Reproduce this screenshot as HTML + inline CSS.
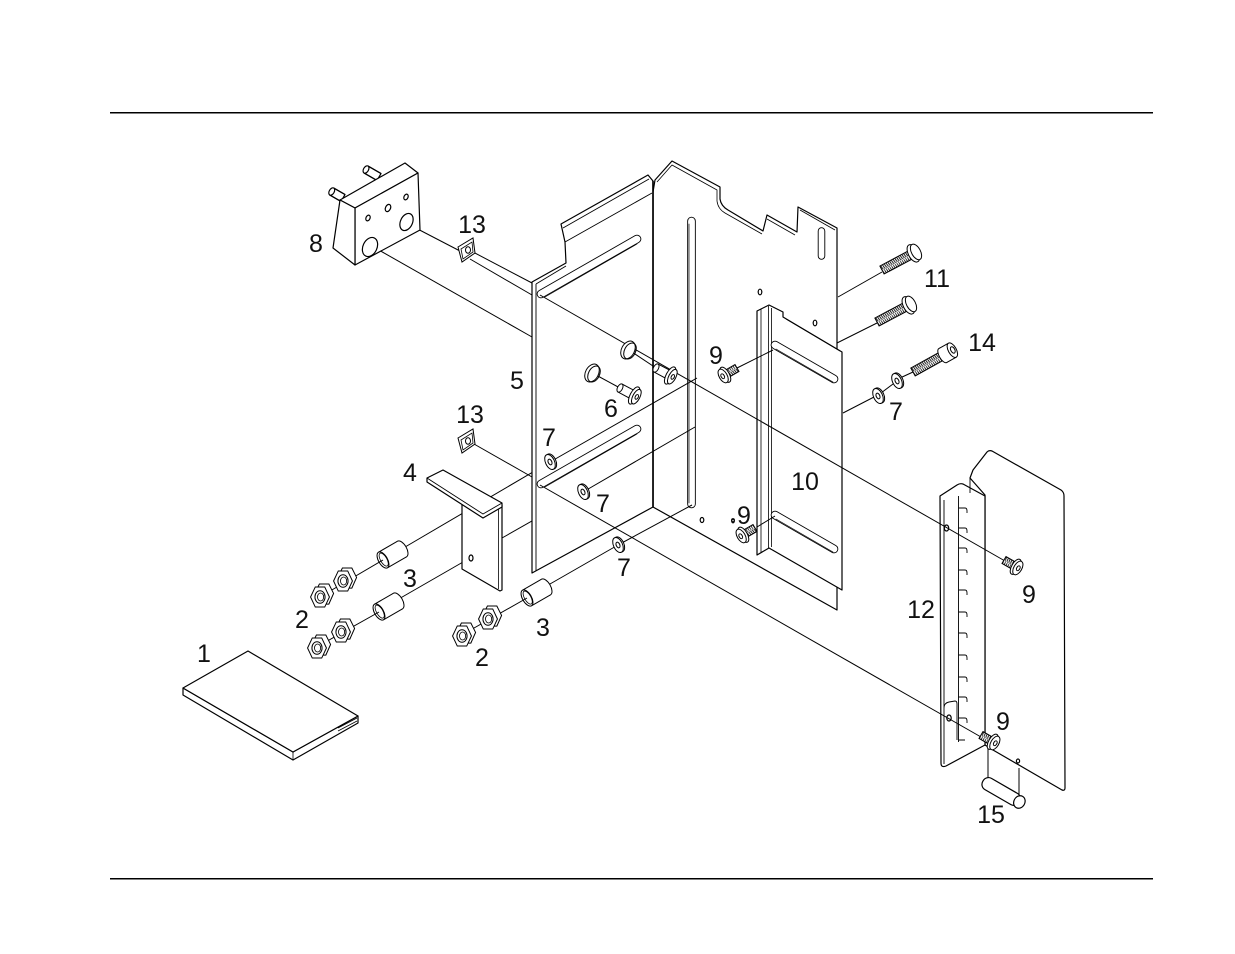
<!DOCTYPE html>
<html><head><meta charset="utf-8"><style>
html,body{margin:0;padding:0;background:#fff;}
svg{display:block;}
text{font-family:"Liberation Sans",sans-serif;font-size:25px;fill:#111;text-anchor:middle;}
</style></head><body>
<svg width="1235" height="954" viewBox="0 0 1235 954" xmlns="http://www.w3.org/2000/svg">
<defs>
<pattern id="th" patternUnits="userSpaceOnUse" width="2" height="10"><rect width="2" height="10" fill="#fff"/><path d="M0,0 L1.4,10" stroke="#000" stroke-width="0.9"/></pattern>
<g id="s11"><rect x="0" y="-4.5" width="34" height="9" fill="url(#th)" stroke="#000" stroke-width="1"/><ellipse cx="35.5" cy="0" rx="5" ry="9.5" fill="#fff" stroke="#000"/><ellipse cx="38.5" cy="0" rx="4.5" ry="8.5" fill="#fff" stroke="#000"/></g>
<g id="s14"><rect x="0" y="-4.5" width="34" height="9" fill="url(#th)" stroke="#000"/><ellipse cx="34" cy="0" rx="3.5" ry="8" fill="#fff" stroke="#000"/><rect x="34" y="-8" width="11" height="16" fill="#fff"/><path d="M34,-8 L45,-8 M34,8 L45,8" stroke="#000"/><ellipse cx="45" cy="0" rx="4" ry="8" fill="#fff" stroke="#000"/><ellipse cx="45.5" cy="0" rx="2" ry="3.5" fill="none" stroke="#000"/></g>
<g id="s9"><rect x="0" y="-4" width="12" height="8" fill="url(#th)" stroke="#000"/><ellipse cx="13.5" cy="0" rx="4" ry="8.5" fill="#fff" stroke="#000"/><ellipse cx="16" cy="0" rx="4" ry="7.5" fill="#fff" stroke="#000"/><ellipse cx="16.5" cy="0" rx="1.6" ry="2.6" fill="none" stroke="#000"/></g>
<g id="w7"><ellipse cx="1.5" cy="0" rx="4.5" ry="8" fill="#fff" stroke="#000"/><ellipse cx="0" cy="0" rx="4.5" ry="8" fill="#fff" stroke="#000"/><ellipse cx="0" cy="0" rx="1.8" ry="3" fill="#fff" stroke="#000"/></g>
<g id="p6"><rect x="0" y="-4.5" width="15" height="9" fill="#fff" stroke="#000"/><ellipse cx="0" cy="0" rx="2.5" ry="4.5" fill="#fff" stroke="#000"/><ellipse cx="16" cy="0" rx="4" ry="9.5" fill="#fff" stroke="#000"/><ellipse cx="18.5" cy="0" rx="3.5" ry="8" fill="#fff" stroke="#000"/><ellipse cx="19" cy="0" rx="1.5" ry="2.5" fill="none" stroke="#000"/></g>
<g id="c3"><ellipse cx="22" cy="0" rx="4.5" ry="9" fill="#fff" stroke="#000"/><rect x="0" y="-9" width="22" height="18" fill="#fff"/><path d="M0,-9 L22,-9 M0,9 L22,9" stroke="#000"/><ellipse cx="0" cy="0" rx="4.5" ry="9" fill="#fff" stroke="#000"/><ellipse cx="0.8" cy="0" rx="3.2" ry="7.3" fill="none" stroke="#000" stroke-width="0.8"/></g>
<g id="nut"><g transform="scale(1.18)" stroke-width="0.85"><polygon points="8,-2 4,-10 -4,-10 -8,-2 -4,7 4,7" transform="translate(3.5,-1)" fill="#fff" stroke="#000"/><polygon points="8,0 4,-8.5 -4,-8.5 -8,0 -4,8.5 4,8.5" fill="#fff" stroke="#000"/><ellipse cx="0" cy="0" rx="4.3" ry="5.3" fill="#fff" stroke="#000"/><ellipse cx="0.5" cy="0" rx="2.6" ry="3.4" fill="none" stroke="#000" stroke-width="0.7"/></g></g>
<g id="clip"><polygon points="458,247 473,238 475,253 462,262" fill="#fff" stroke="#000"/><path d="M461,249 L472,242 L473,252 L463,259 Z" fill="none" stroke="#000" stroke-width="0.8"/><ellipse cx="468" cy="250" rx="2.5" ry="3.2" fill="none" stroke="#000"/></g>
</defs>

<!-- frame lines -->
<rect x="110" y="112" width="1043" height="1.5" fill="#000"/>
<rect x="110" y="878" width="1043" height="1.5" fill="#000"/>

<g fill="none" stroke="#000" stroke-width="1">
<path d="M370,245 L532,337"/>
<path d="M408,224 L460,251"/>
<path d="M473,252 L532,283"/>
<path d="M470,259 L532,295"/>
<path d="M474,444 L532,477"/>
<path d="M838,297 L882,272"/>
<path d="M837,343 L877,323"/>
<path d="M843,413 L874,397"/>
<path d="M881,393 L893,384"/>
<path d="M900,378 L913,372"/>
<path d="M400,550 L550,462"/>
<path d="M397,600 L470,558"/>
<path d="M543,588 L618,545"/>
<path d="M502,538 L583,492"/>
</g>

<g stroke="#000" stroke-width="1.2" stroke-linejoin="round">
<path d="M653,192 L655,180 L672,161 L720,187 L720,199 Q721,206 728,210 L763,231 L767,215 L797,232 L798,207 L837,228 L837,610 L653,507 Z" fill="#fff"/>
<path d="M657,182 L672,165 L717,190 L717,201 Q718,209 725,213 L762,234 M767,219 L795,235 M800,210 L835,230" fill="none" stroke-width="0.8"/>
<path d="M532,282 L566,263 L565,242 L561,224 L648,175 L653,181 L653,507 L532,573 Z" fill="#fff"/>
<path d="M536,284 L536,571 M536,284 L566,266 M565,242 L652,193 M563,228 L649,179" fill="none" stroke-width="0.9"/>
<path d="M653,181 L653,507" fill="none" stroke-width="1.6"/>
<ellipse cx="760" cy="292" rx="1.8" ry="2.8" fill="#fff"/>
<ellipse cx="815" cy="323" rx="1.8" ry="2.8" fill="#fff"/>
<ellipse cx="702" cy="520" rx="1.8" ry="2.5" fill="#fff"/>
<ellipse cx="733" cy="521" rx="1.3" ry="1.8" fill="#fff"/>
</g>
<!-- slots -->
<g stroke-linecap="round">
<line x1="541" y1="294" x2="637" y2="239" stroke="#000" stroke-width="8.6"/><line x1="541" y1="294" x2="637" y2="239" stroke="#fff" stroke-width="6.8"/>
<line x1="545" y1="297" x2="637" y2="244" stroke="#000" stroke-width="0.7"/>
<line x1="541" y1="484" x2="637" y2="429" stroke="#000" stroke-width="8.6"/><line x1="541" y1="484" x2="637" y2="429" stroke="#fff" stroke-width="6.8"/>
<line x1="545" y1="487" x2="637" y2="434" stroke="#000" stroke-width="0.7"/>
<line x1="691.5" y1="221" x2="691.5" y2="504" stroke="#000" stroke-width="8.6"/><line x1="691.5" y1="221" x2="691.5" y2="504" stroke="#fff" stroke-width="6.8"/>
<line x1="689" y1="224" x2="689" y2="503" stroke="#000" stroke-width="0.7"/>
<line x1="821.5" y1="231" x2="821.5" y2="256" stroke="#000" stroke-width="7.5"/><line x1="821.5" y1="231" x2="821.5" y2="256" stroke="#fff" stroke-width="5.7"/>
</g>

<!-- part 10 -->
<g stroke="#000" stroke-width="1.2" stroke-linejoin="round">
<path d="M757,311 L769,305 L783,312 L783,317 L842,352 L842,590 L769,548 L757,555 Z" fill="#fff"/>
<path d="M761,309 L761,553 M768.5,306 L768.5,548 M771.5,308 L771.5,547 M786,319 L840,351" fill="none" stroke-width="0.8"/>
</g>
<g stroke-linecap="round">
<line x1="775" y1="345" x2="834" y2="379" stroke="#000" stroke-width="8.6"/><line x1="775" y1="345" x2="834" y2="379" stroke="#fff" stroke-width="6.8"/>
<line x1="776" y1="349" x2="833" y2="382" stroke="#000" stroke-width="0.7"/>
<line x1="775" y1="515" x2="834" y2="549" stroke="#000" stroke-width="8.6"/><line x1="775" y1="515" x2="834" y2="549" stroke="#fff" stroke-width="6.8"/>
<line x1="776" y1="519" x2="833" y2="552" stroke="#000" stroke-width="0.7"/>
</g>

<!-- part 12 + panel -->
<g stroke="#000" stroke-width="1.2" stroke-linejoin="round">
<path d="M973,470 L987,452 Q989,450 992,451 L1061,490 Q1064,492 1064,496 L1065,788 Q1065,791 1062,790 L993,750 L985,745 L985,495 L970,478 Z" fill="#fff"/>
<path d="M940,496 L957,485 Q960,483 963,484 L985,496 L985,745 L946,766 Q941,768 941,763 Z" fill="#fff"/>
<path d="M944,500 L944,764 M944,708 Q944,703 949,702 L955,701 Q957,701 957,704 L957,740 M970,478 L970,493" fill="none" stroke-width="0.9"/>
<path d="M958.5,496 L958.5,742 M958.5,508 L965,508 Q967,508 967,511 L967,513 M958.5,528 L965,528 Q967,528 967,531 L967,533 M958.5,548 L965,548 Q967,548 967,551 L967,553 M958.5,570 L965,570 Q967,570 967,573 L967,575 M958.5,590 L965,590 Q967,590 967,593 L967,595 M958.5,612 L965,612 Q967,612 967,615 L967,617 M958.5,633 L965,633 Q967,633 967,636 L967,638 M958.5,655 L965,655 Q967,655 967,658 L967,660 M958.5,677 L965,677 Q967,677 967,680 L967,682 M958.5,697 L965,697 Q967,697 967,700 L967,702 M958.5,718 L965,718 Q967,718 967,721 L967,723 M958.5,740 L965,740" fill="none" stroke-width="0.9"/>
<ellipse cx="946.5" cy="528" rx="2.2" ry="3" fill="#fff"/>
<ellipse cx="949" cy="718" rx="2.2" ry="3" fill="#fff"/>
<ellipse cx="1018" cy="761" rx="1.6" ry="2" fill="#fff"/>
</g>

<g fill="none" stroke="#000" stroke-width="1">
<path d="M540,295 L1005,561"/>
<path d="M540,485 L981,737"/>
<path d="M550,462 L697,378"/>
<path d="M583,492 L695,427"/>
<path d="M618,545 L692,505"/>
<path d="M737,368 L773,350"/>
<path d="M757,527 L775,516"/>
<path d="M632,352 L656,368"/>
<path d="M596,375 L620,388"/>
<path d="M988,748 L988,778"/>
<path d="M1019,768 L1019,796"/>
</g>

<g fill="#fff" stroke="#000" stroke-width="1">
<ellipse cx="628" cy="350" rx="6.5" ry="9.5" transform="rotate(28 628 350)"/>
<ellipse cx="630" cy="351" rx="5.5" ry="8.5" transform="rotate(28 630 351)" fill="none"/>
<ellipse cx="592" cy="373" rx="6.5" ry="9.5" transform="rotate(28 592 373)"/>
<ellipse cx="594" cy="374" rx="5.5" ry="8.5" transform="rotate(28 594 374)" fill="none"/>
</g>

<use href="#p6" transform="translate(656,368) rotate(28)"/>
<use href="#p6" transform="translate(620,388) rotate(28)"/>

<use href="#s11" transform="translate(882,270) rotate(-28)"/>
<use href="#s11" transform="translate(877,322) rotate(-28)"/>
<use href="#s14" transform="translate(913,372) rotate(-29)"/>
<use href="#s9" transform="translate(737,368) rotate(150)"/>
<use href="#s9" transform="translate(755,528) rotate(150)"/>
<use href="#s9" transform="translate(1004,560) rotate(30)"/>
<use href="#s9" transform="translate(981,735) rotate(30)"/>

<use href="#w7" transform="translate(550,462) rotate(-25)"/>
<use href="#w7" transform="translate(583,492) rotate(-25)"/>
<use href="#w7" transform="translate(618,545) rotate(-25)"/>
<use href="#w7" transform="translate(897,381) rotate(-25)"/>
<use href="#w7" transform="translate(878,396) rotate(-25)"/>

<!-- part 4 -->
<g stroke="#000" stroke-width="1.2" stroke-linejoin="round">
<path d="M462,502 L483,515 L502,505 L502,590 L500,591 L462,569 Z" fill="#fff"/>
<path d="M498.5,507 L498.5,589" fill="none" stroke-width="0.8"/>
<path d="M427,478 L443,470 L502,503 L502,507 L483,518 L427,482 Z" fill="#fff"/>
<path d="M427,478 L483,514 L502,503" fill="none" stroke-width="0.9"/>
<ellipse cx="471" cy="558" rx="2" ry="3" fill="#fff"/>
</g>

<use href="#c3" transform="translate(383,560) rotate(-30)"/>
<use href="#c3" transform="translate(379,612) rotate(-30)"/>
<use href="#c3" transform="translate(527,598) rotate(-30)"/>

<g fill="none" stroke="#000" stroke-width="1">
<path d="M325,594 L383,560"/>
<path d="M322,644 L379,612"/>
<path d="M467,632 L527,598"/>
</g>
<use href="#nut" transform="translate(343,581)"/>
<use href="#nut" transform="translate(320,597)"/>
<use href="#nut" transform="translate(341,632)"/>
<use href="#nut" transform="translate(317,648)"/>
<use href="#nut" transform="translate(488,619)"/>
<use href="#nut" transform="translate(462,636)"/>

<use href="#clip"/>
<use href="#clip" transform="translate(0,191)"/>

<!-- part 8 -->
<g stroke="#000" stroke-width="1.2" stroke-linejoin="round">
<g transform="translate(343,198) rotate(210)"><rect x="0" y="-4" width="13" height="8" fill="#fff"/><path d="M0,-4 L13,-4 M0,4 L13,4" fill="none"/><ellipse cx="13" cy="0" rx="2.5" ry="4" fill="#fff"/></g>
<g transform="translate(379,177) rotate(210)"><rect x="0" y="-4" width="15" height="8" fill="#fff"/><path d="M0,-4 L15,-4 M0,4 L15,4" fill="none"/><ellipse cx="15" cy="0" rx="2.5" ry="4" fill="#fff"/></g>
<path d="M340,200 L405,163 L418,173 L355,208 Z" fill="#fff"/>
<path d="M355,208 L418,173 L420,230 L355,265 Z" fill="#fff"/>
<path d="M340,200 L355,208 L355,265 L333,248 Z" fill="#fff"/>
<ellipse cx="370" cy="247" rx="7" ry="10" transform="rotate(25 370 247)" fill="#fff"/>
<ellipse cx="406.5" cy="222" rx="6" ry="9" transform="rotate(25 406.5 222)" fill="#fff"/>
<ellipse cx="368" cy="218" rx="2" ry="3" transform="rotate(25 368 218)" fill="#fff"/>
<ellipse cx="388" cy="208" rx="2.5" ry="3.8" transform="rotate(25 388 208)" fill="#fff"/>
<ellipse cx="406" cy="197" rx="2" ry="3" transform="rotate(25 406 197)" fill="#fff"/>
</g>

<!-- pin 15 -->
<g transform="translate(983,781) rotate(30)" stroke="#000" stroke-width="1.2">
<rect x="0" y="-6.5" width="42" height="13" rx="6" fill="#fff"/>
<ellipse cx="42" cy="0" rx="5.5" ry="6.5" fill="#fff"/>
</g>

<!-- book 1 -->
<g stroke="#000" stroke-width="1.2" stroke-linejoin="round">
<path d="M183,688 L293,752 L358,716 L358,723 L293,760 L183,695 Z" fill="#fff"/>
<path d="M183,688 L248,651 L358,716 L293,752 Z" fill="#fff"/>
<path d="M293,752 L293,760 M338,728 L357,718 M338,731 L357,721" fill="none" stroke-width="0.8"/>
</g>

<text x="316" y="252">8</text>
<text x="472" y="233">13</text>
<text x="517" y="389">5</text>
<text x="611" y="417">6</text>
<text x="716" y="364">9</text>
<text x="937" y="287">11</text>
<text x="982" y="351">14</text>
<text x="896" y="420">7</text>
<text x="805" y="490">10</text>
<text x="744" y="524">9</text>
<circle cx="733" cy="520" r="1.5" fill="none" stroke="#000" stroke-width="0.8"/>
<text x="921" y="618">12</text>
<text x="1029" y="603">9</text>
<text x="1003" y="730">9</text>
<text x="991" y="823">15</text>
<text x="204" y="662">1</text>
<text x="410" y="481">4</text>
<text x="470" y="423">13</text>
<text x="549" y="446">7</text>
<text x="603" y="512">7</text>
<text x="624" y="576">7</text>
<text x="302" y="628">2</text>
<text x="410" y="587">3</text>
<text x="482" y="666">2</text>
<text x="543" y="636">3</text>
</svg>
</body></html>
